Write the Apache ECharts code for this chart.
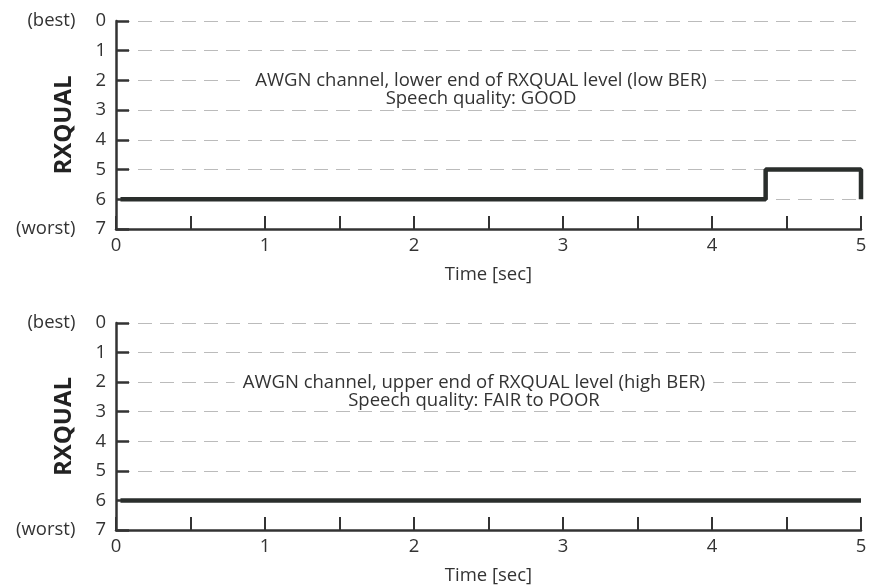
<!DOCTYPE html>
<html><head><meta charset="utf-8">
<script src="https://cdn.jsdelivr.net/npm/echarts@6/dist/echarts.min.js"></script>
<style>html,body{margin:0;padding:0;background:#fff}#c{width:877px;height:585px}</style>
</head><body><div id="c"></div>
<script>
// Data
const yTicks = [0,1,2,3,4,5,6,7];
const yExtraLabels = {0:'(best)', 7:'(worst)'};
const xTicks = [0,1,2,3,4,5];
const topSeries = [[0.03,6],[4.36,6],[4.36,5],[5,5],[5,6]];
const bottomSeries = [[0.03,6],[5,6]];
const topNote = ['AWGN channel, lower end of RXQUAL level (low BER)','Speech quality: GOOD'];
const bottomNote = ['AWGN channel, upper end of RXQUAL level (high BER)','Speech quality: FAIR to POOR'];
const yName = 'RXQUAL';
const xName = 'Time [sec]';

const FONT = '"Open Sans", "Noto Sans", sans-serif';
const AX = '#333';
const LINE = '#2a2e2c';
const FS = 18.5;

function yAxis(gi){
  return {
    gridIndex: gi, type:'value', inverse:true, min:0, max:7, interval:1,
    name: yName, nameLocation:'middle', nameRotate:90, nameGap:40, nameMoveOverlap:false,
    nameTextStyle:{fontFamily:FONT, fontWeight:'bold', fontSize:24, color:'#222'},
    axisLine:{show:true, lineStyle:{color:AX, width:2.5}},
    axisTick:{show:true, inside:true, length:13, lineStyle:{color:AX, width:2.5}},
    axisLabel:{
      margin:10, fontFamily:FONT, fontSize:FS, color:'#333',
      formatter: v => (yExtraLabels[v] ? '{a|'+yExtraLabels[v]+'}' : '') + '{n|'+v+'}',
      rich:{
        a:{fontFamily:FONT, fontSize:FS, color:'#333', padding:[0,20,0,0]},
        n:{fontFamily:FONT, fontSize:FS, color:'#333'}
      }
    },
    splitLine:{show:true, lineStyle:{color:'#bbb', width:1.2, type:[14,8]}}
  };
}
function xAxis(gi){
  return {
    gridIndex: gi, type:'value', min:0, max:5, interval:0.5,
    name: xName, nameLocation:'middle', nameGap:36, nameMoveOverlap:false,
    nameTextStyle:{fontFamily:FONT, fontSize:18.5, color:'#333'},
    axisLine:{show:true, onZero:false, lineStyle:{color:AX, width:2.5}},
    axisTick:{show:true, inside:true, length:13, lineStyle:{color:AX, width:2}},
    axisLabel:{margin:7, fontFamily:FONT, fontSize:FS, color:'#333',
      formatter: v => xTicks.indexOf(v) >= 0 ? String(v) : ''},
    splitLine:{show:false}
  };
}
function note(lines, left, top){
  return {
    text: lines.join('\n'), left: left, top: top, textAlign:'center',
    backgroundColor:'#fff', padding:[0,8,0,8],
    textStyle:{fontFamily:FONT, fontSize:18.5, fontWeight:'normal', color:'#333', lineHeight:18, align:'center'}
  };
}

const chart = echarts.init(document.getElementById('c'));
chart.setOption({
  animation:false,
  backgroundColor:'#fff',
  title:[note(topNote, 473, 72), note(bottomNote, 466, 374)],
  grid:[
    {left:116, right:16, top:21, height:208, containLabel:false, outerBoundsMode:'none'},
    {left:116, right:16, top:323, height:207, containLabel:false, outerBoundsMode:'none'}
  ],
  xAxis:[xAxis(0), xAxis(1)],
  yAxis:[yAxis(0), yAxis(1)],
  series:[
    {type:'line', xAxisIndex:0, yAxisIndex:0, data:topSeries, showSymbol:false,
     lineStyle:{color:LINE, width:4.5}, z:5},
    {type:'line', xAxisIndex:1, yAxisIndex:1, data:bottomSeries, showSymbol:false,
     lineStyle:{color:LINE, width:4.5}, z:5}
  ]
});
</script></body></html>
